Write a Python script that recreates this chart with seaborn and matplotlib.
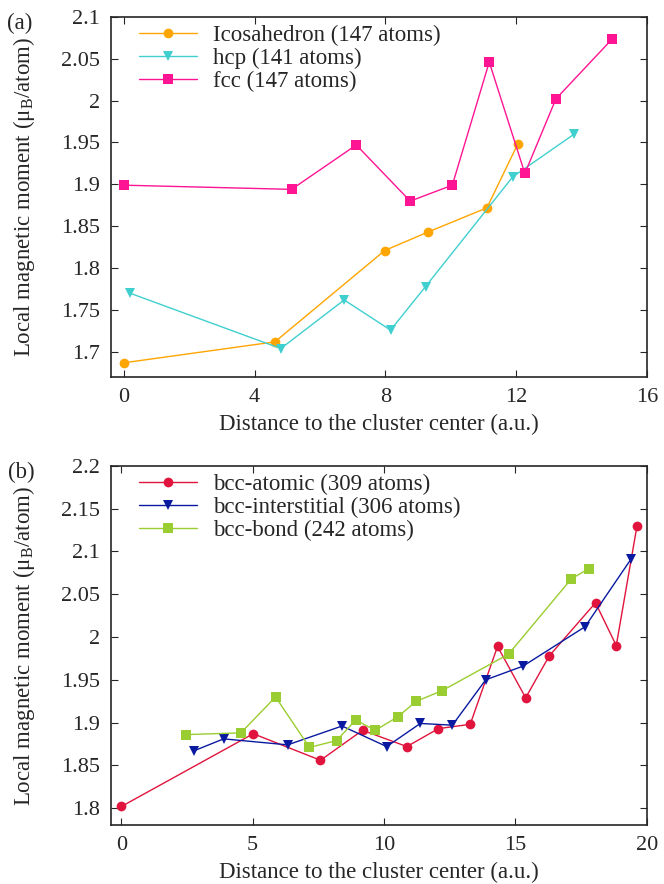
import matplotlib
matplotlib.use("Agg")
import matplotlib.pyplot as plt
import seaborn as sns
import pandas as pd

# panel (a)
ico_x = [0.0, 4.62, 7.98, 9.30, 11.11, 12.05]
ico_y = [1.687, 1.712, 1.821, 1.843, 1.872, 1.948]
hcp_x = [0.19, 4.80, 6.74, 8.16, 9.23, 11.90, 13.78]
hcp_y = [1.770, 1.704, 1.762, 1.726, 1.778, 1.909, 1.960]
fcc_x = [0.0, 5.13, 7.11, 8.76, 10.05, 11.18, 12.27, 13.22, 14.93]
fcc_y = [1.899, 1.894, 1.947, 1.880, 1.899, 2.046, 1.913, 2.002, 2.073]

# panel (b)
atomic_x = [0.0, 5.02, 7.58, 9.18, 10.87, 12.07, 13.28, 14.32, 15.39, 16.29, 18.05, 18.84, 19.63]
atomic_y = [1.802, 1.887, 1.856, 1.891, 1.872, 1.893, 1.898, 1.989, 1.929, 1.978, 2.040, 1.990, 2.130]
inter_x = [2.76, 3.89, 6.33, 8.40, 10.10, 11.38, 12.60, 13.87, 15.29, 17.65, 19.40]
inter_y = [1.867, 1.881, 1.874, 1.896, 1.872, 1.899, 1.897, 1.950, 1.966, 2.012, 2.091]
bond_x = [2.46, 4.55, 5.87, 7.16, 8.19, 8.92, 9.67, 10.53, 11.23, 12.19, 14.74, 17.13, 17.80]
bond_y = [1.886, 1.888, 1.930, 1.871, 1.879, 1.903, 1.891, 1.907, 1.925, 1.937, 1.980, 2.068, 2.080]

sns.set_theme(style="ticks")
plt.rcParams["font.family"] = ["Liberation Serif", "DejaVu Serif"]
plt.rcParams["mathtext.fontset"] = "stix"

FS = 16.5

fig = plt.figure(figsize=(6.64, 8.84), dpi=100)
ax1 = fig.add_axes([0.167, 0.5735, 0.807, 0.4075])
ax2 = fig.add_axes([0.167, 0.0664, 0.807, 0.4066])

series_a = [
    (ico_x, ico_y, "Icosahedron (147 atoms)", "#FFA500", "o", 7),
    (hcp_x, hcp_y, "hcp (141 atoms)", "#40CFCF", "v", 7),
    (fcc_x, fcc_y, "fcc (147 atoms)", "#FF1493", "s", 6.5),
]
series_b = [
    (atomic_x, atomic_y, "bcc-atomic (309 atoms)", "#E0143C", "o", 7),
    (inter_x, inter_y, "bcc-interstitial (306 atoms)", "#0A1AA0", "v", 7),
    (bond_x, bond_y, "bcc-bond (242 atoms)", "#9ACD32", "s", 6.5),
]

for ax, series in [(ax1, series_a), (ax2, series_b)]:
    for xs, ys, lab, col, mk, ms in series:
        df = pd.DataFrame({"x": xs, "y": ys})
        sns.lineplot(data=df, x="x", y="y", ax=ax, color=col, marker=mk,
                     markersize=ms, markeredgewidth=0, linewidth=1.0,
                     label=lab, estimator=None, sort=False)
    ax.legend(loc="upper left", frameon=False, fontsize=FS,
              handlelength=2.5, handletextpad=0.7, labelspacing=0.08,
              borderaxespad=0.0, borderpad=0.35,
              bbox_to_anchor=(0.038, 1.0))
    ax.set_xlabel("Distance to the cluster center (a.u.)", fontsize=FS, labelpad=5)
    ax.set_ylabel(r"Local magnetic moment ($\mathregular{\mu_B}$/atom)", fontsize=FS, labelpad=17)
    ax.tick_params(direction="in", top=True, right=True, labelsize=16,
                   length=5, width=0.8, pad=8)
    for sp in ax.spines.values():
        sp.set_linewidth(1.2)

ax1.set_xlim(-0.4, 16)
ax1.set_ylim(1.67, 2.1)
ax1.set_xticks([0, 4, 8, 12, 16])
ax1.set_yticks([1.7, 1.75, 1.8, 1.85, 1.9, 1.95, 2.0, 2.05, 2.1])
ax1.set_yticklabels(["1.7", "1.75", "1.8", "1.85", "1.9", "1.95", "2", "2.05", "2.1"])

ax2.set_xlim(-0.4, 20)
ax2.set_ylim(1.78, 2.2)
ax2.set_xticks([0, 5, 10, 15, 20])
ax2.set_yticks([1.8, 1.85, 1.9, 1.95, 2.0, 2.05, 2.1, 2.15, 2.2])
ax2.set_yticklabels(["1.8", "1.85", "1.9", "1.95", "2", "2.05", "2.1", "2.15", "2.2"])

fig.text(0.010, 0.985, "(a)", fontsize=FS, va="top", ha="left")
fig.text(0.012, 0.478, "(b)", fontsize=FS, va="top", ha="left")

fig.savefig("out.png", dpi=100)
